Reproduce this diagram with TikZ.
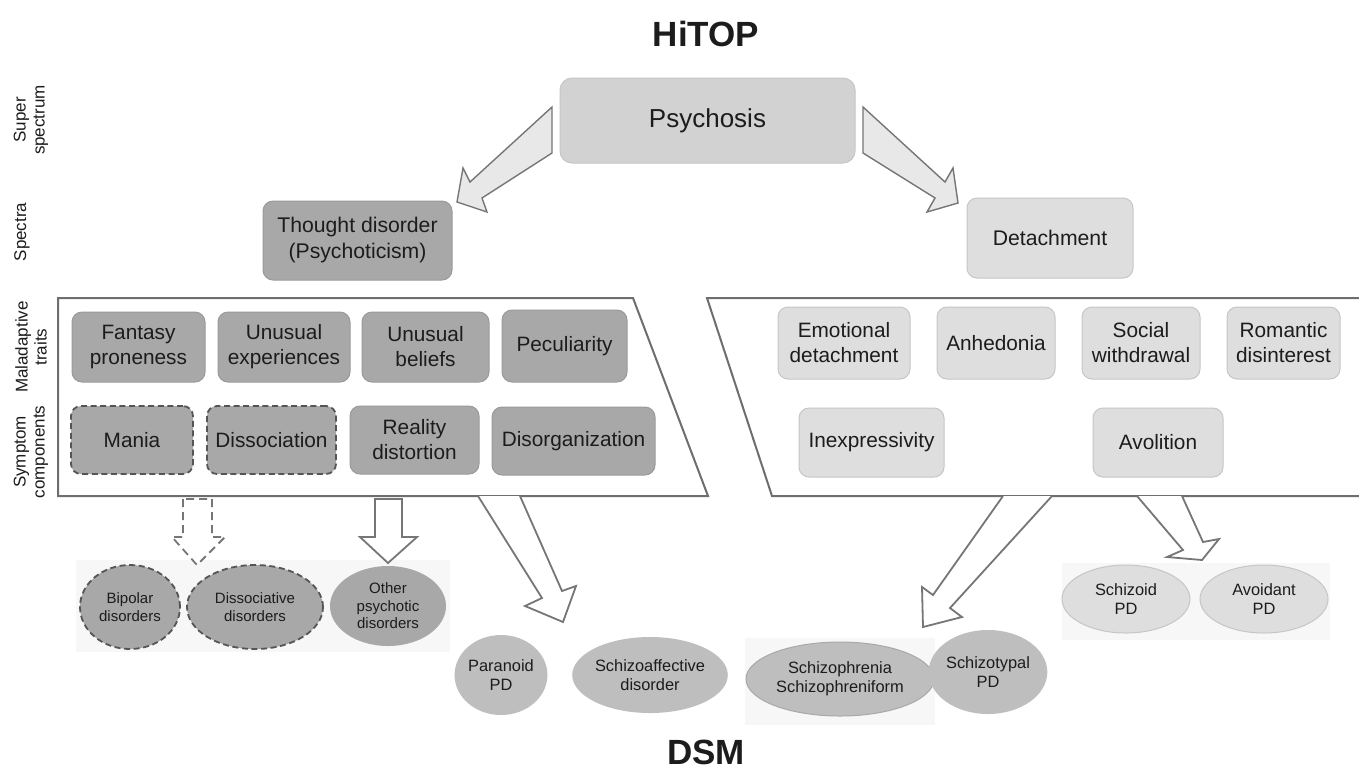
\documentclass[tikz,border=0pt]{standalone}
\usepackage{fontspec}
\setmainfont{Liberation Sans}
\usetikzlibrary{shapes.geometric}
\definecolor{txt}{HTML}{1C1C1C}
\definecolor{dk}{HTML}{A8A8A8}
\definecolor{dkline}{HTML}{9A9A9A}
\definecolor{dshc}{HTML}{555555}
\definecolor{lt}{HTML}{DEDEDE}
\definecolor{ltline}{HTML}{C6C6C6}
\definecolor{psyfill}{HTML}{D2D2D2}
\definecolor{frame}{HTML}{6E6E6E}
\definecolor{arr}{HTML}{767676}
\definecolor{arrfill}{HTML}{E8E8E8}
\definecolor{bgl}{HTML}{F7F7F7}
\definecolor{mid}{HTML}{BEBEBE}
\definecolor{midline}{HTML}{A8A8A8}
\tikzset{
  basenode/.style={inner sep=0pt, align=center, text=txt},
  dbox/.style={basenode, rounded corners=5pt, fill=dk, draw=dkline, line width=0.5pt, font=\fontsize{10.4}{12.5}\selectfont},
  dboxdash/.style={dbox, draw=dshc, line width=0.9pt, dash pattern=on 3pt off 1.8pt},
  lbox/.style={basenode, rounded corners=5pt, fill=lt, draw=ltline, line width=0.5pt, font=\fontsize{10.4}{12.5}\selectfont},
  sidelabel/.style={basenode, rotate=90, font=\fontsize{8.5}{9.5}\selectfont},
  ell/.style={basenode, ellipse, font=\fontsize{8.2}{9.6}\selectfont},
  smallell/.style={basenode, ellipse, font=\fontsize{7.5}{8.8}\selectfont},
  bigarrow/.style={draw=arr, line width=0.7pt, fill=arrfill, line join=miter},
  blockarrow/.style={draw=arr, line width=0.9pt, fill=white, line join=miter},
  trapez/.style={draw=frame, line width=1pt},
  title/.style={basenode, font=\fontsize{17.5}{20}\selectfont\bfseries},
}
\begin{document}
\begin{tikzpicture}[x=0.5pt,y=-0.5pt]
\useasboundingbox (0,0) rectangle (1359,773);
\fill[white] (0,0) rectangle (1359,773);

% faint backgrounds behind ellipse groups
\fill[bgl] (76,560) rectangle (450,652);
\fill[bgl] (1062,563) rectangle (1330,640);
\fill[bgl] (745,638) rectangle (935,725);

% titles
\node[title, anchor=base] (hitop) at (706,46) {HiTOP};
\node[title, anchor=base] (dsm) at (706,764) {DSM};

% side labels
\node[sidelabel] (lsuper) at (31,120) {Super\\spectrum};
\node[sidelabel] (lspectra) at (22,232) {Spectra};
\node[sidelabel] (lmal) at (31,347) {Maladaptive\\traits};
\node[sidelabel] (lsym) at (31,452) {Symptom\\components};

% top level
\node[basenode, rounded corners=6pt, fill=psyfill, draw=ltline, line width=0.5pt,
      minimum width=147.5pt, minimum height=42.5pt, font=\fontsize{13}{15}\selectfont]
      (psy) at (707.5,120.5) {Psychosis};
\node[dbox, minimum width=94.5pt, minimum height=39.5pt, font=\fontsize{10.6}{13}\selectfont]
      (thought) at (357.5,240.5) {Thought disorder\\(Psychoticism)};
\node[lbox, minimum width=83pt, minimum height=40pt, font=\fontsize{10.6}{13}\selectfont]
      (detach) at (1050,238) {Detachment};

% big arrows from Psychosis
\draw[bigarrow] (552,107) -- (470,182) -- (463,168) -- (457,202) -- (487,212) -- (482,198) -- (552,153) -- cycle;
\draw[bigarrow] (863,107) -- (945,182) -- (953,168) -- (958,203) -- (927,212) -- (935,198) -- (863,153) -- cycle;

% trapezoid containers
\draw[trapez] (58,298) -- (633,298) -- (708,496) -- (58,496) -- cycle;
\draw[trapez] (1365,298) -- (707,298) -- (772,496) -- (1365,496);

% left row 1
\node[dbox, minimum width=66.5pt, minimum height=35pt] (fan) at (138.5,347) {Fantasy\\proneness};
\node[dbox, minimum width=66pt, minimum height=35pt] (uexp) at (284,347) {Unusual\\experiences};
\node[dbox, minimum width=63.5pt, minimum height=35pt] (ubel) at (425.5,347) {Unusual\\beliefs};
\node[dbox, minimum width=62.5pt, minimum height=36pt] (pec) at (564.5,346) {Peculiarity};
% left row 2
\node[dboxdash, minimum width=61pt, minimum height=34pt] (mania) at (132,440) {Mania};
\node[dboxdash, minimum width=64.5pt, minimum height=34pt] (dissoc) at (271.5,440) {Dissociation};
\node[dbox, minimum width=64.5pt, minimum height=34pt] (real) at (414.5,440) {Reality\\distortion};
\node[dbox, minimum width=81.5pt, minimum height=34pt] (disorg) at (573.5,441) {Disorganization};

% right row 1
\node[lbox, minimum width=66pt, minimum height=36pt] (emo) at (844,343) {Emotional\\detachment};
\node[lbox, minimum width=59pt, minimum height=36pt] (anh) at (996,343) {Anhedonia};
\node[lbox, minimum width=59pt, minimum height=36pt] (soc) at (1141,343) {Social\\withdrawal};
\node[lbox, minimum width=56.5pt, minimum height=36pt] (rom) at (1283.5,343) {Romantic\\disinterest};
% right row 2
\node[lbox, minimum width=72.5pt, minimum height=34.5pt] (inex) at (871.5,442.5) {Inexpressivity};
\node[lbox, minimum width=65pt, minimum height=34.5pt] (avo) at (1158,442.5) {Avolition};

% arrows below containers
\draw[blockarrow, draw=arr, dash pattern=on 4pt off 2.5pt] (183,499) -- (183,537) -- (172,537) -- (197,565) -- (225,537) -- (212,537) -- (212,499) -- cycle;
\draw[blockarrow] (375,499) -- (375,537) -- (360,537) -- (388,563) -- (417,537) -- (402,537) -- (402,499) -- cycle;
\draw[blockarrow] (478,496) -- (542,598) -- (525,606) -- (563,622) -- (576,586) -- (562,591) -- (520,496);
\draw[blockarrow] (1003,496) -- (933,595) -- (922,587) -- (923,627) -- (962,617) -- (950,608) -- (1052,496);
\draw[blockarrow] (1137,496) -- (1183,550) -- (1167,557) -- (1202,560) -- (1219,539) -- (1203,542) -- (1182,496);

% DSM ellipses
\node[smallell, fill=dk, draw=dshc, line width=0.9pt, dash pattern=on 3pt off 1.8pt,
      minimum width=50pt, minimum height=42pt] (bip) at (130,607) {Bipolar\\disorders};
\node[smallell, fill=dk, draw=dshc, line width=0.9pt, dash pattern=on 3pt off 1.8pt,
      minimum width=68pt, minimum height=42pt] (dis) at (255,607) {Dissociative\\disorders};
\node[smallell, fill=dk, minimum width=58pt, minimum height=40pt] (oth) at (388,606) {Other\\psychotic\\disorders};

\node[ell, fill=mid, minimum width=45pt, minimum height=40pt] (par) at (501,675) {Paranoid\\PD};
\node[ell, fill=mid, minimum width=75pt, minimum height=38pt] (saff) at (650,675) {Schizoaffective\\disorder};
\node[ell, fill=mid, draw=midline, line width=0.5pt, minimum width=94pt, minimum height=37pt] (schz) at (840,679) {Schizophrenia\\Schizophreniform};
\node[ell, fill=mid, minimum width=53pt, minimum height=42pt] (styp) at (988,672) {Schizotypal\\PD};
\node[ell, fill=lt, draw=ltline, line width=0.5pt, minimum width=64pt, minimum height=34pt] (sczd) at (1126,599) {Schizoid\\PD};
\node[ell, fill=lt, draw=ltline, line width=0.5pt, minimum width=64pt, minimum height=34pt] (avd) at (1264,599) {Avoidant\\PD};
\end{tikzpicture}
\end{document}
